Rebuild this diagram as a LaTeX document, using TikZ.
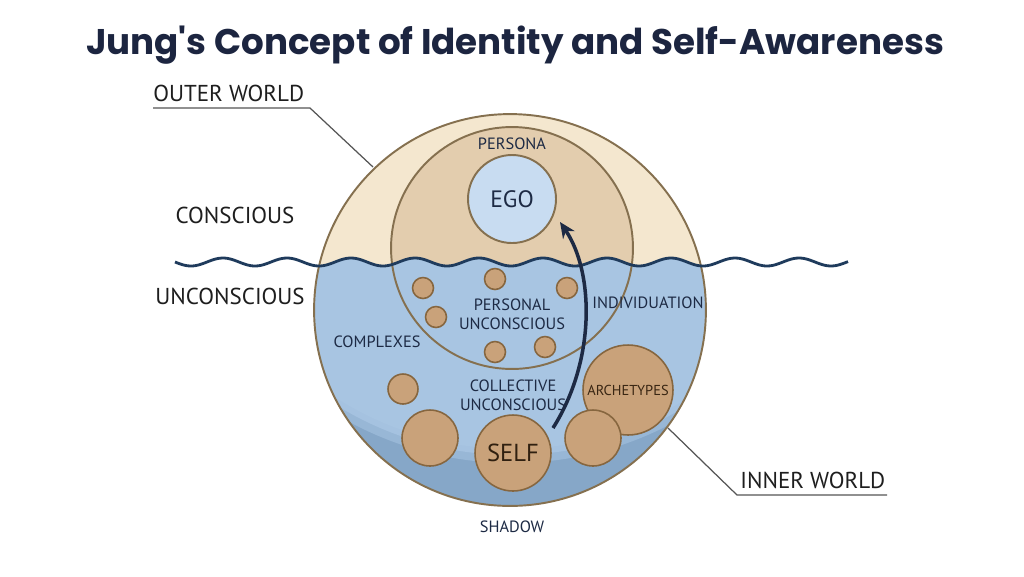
\documentclass[tikz,border=0pt]{standalone}
\usepackage{fontspec}
\setmainfont{PT Sans}
\newfontfamily\titlefont{Poppins}
\usetikzlibrary{arrows.meta}
\definecolor{cream}{HTML}{F4E7CF}
\definecolor{tan}{HTML}{E3CDAE}
\definecolor{blueL}{HTML}{A8C5E2}
\definecolor{blueM}{HTML}{98B7D6}
\definecolor{blueD}{HTML}{86A7C8}
\definecolor{egoblue}{HTML}{C8DCF1}
\definecolor{brownfill}{HTML}{C9A27A}
\definecolor{brownline}{HTML}{86663F}
\definecolor{ringline}{HTML}{85704F}
\definecolor{wavecol}{HTML}{1F3B5C}
\definecolor{txtdark}{HTML}{1E1E1E}
\definecolor{navytxt}{HTML}{1D2A44}
\definecolor{titlecol}{HTML}{1C2540}
\definecolor{leadercol}{HTML}{555555}
\begin{document}
\begin{tikzpicture}[x=0.02cm,y=-0.02cm,
  outerlbl/.style={font=\fontsize{13.1}{15}\selectfont, text=txtdark, inner sep=0pt},
  innerlbl/.style={font=\fontsize{9.3}{10.8}\selectfont, text=navytxt, align=center, inner sep=0pt},
  blob/.style={circle, draw=brownline, fill=brownfill, line width=0.9pt, inner sep=0pt, minimum size=#1*0.04cm},
  ring/.style={circle, draw=ringline, line width=1.1pt, inner sep=0pt, minimum size=#1*0.04cm},
  leader/.style={draw=leadercol, line width=0.7pt},
  growth/.style={draw=navytxt, line width=2pt, -{Stealth[length=9pt,width=8pt]}}
]
\useasboundingbox (0,0) rectangle (1024,576);
\fill[white] (0,0) rectangle (1024,576);

% title
\node[font=\titlefont\bfseries\fontsize{20.3}{24}\selectfont, text=titlecol] (title) at (515,45) {Jung's Concept of Identity and Self-Awareness};

% outer circle fills
\begin{scope}
  \clip (510,310) circle (196);
  \fill[cream] (300,100) rectangle (720,520);
  \begin{scope}
    \clip plot[domain=300:720,samples=140] (\x,{262+4*sin(5.625*(\x-175))}) -- (720,520) -- (300,520) -- cycle;
    \fill[blueD] (300,100) rectangle (720,520);
    \fill[blueM] (512,121) circle (342);
    \fill[blueL!80!blueM] (512,121) circle (334);
    \fill[blueL] (512,121) circle (328);
  \end{scope}
\end{scope}
% inner circle fills
\begin{scope}
  \clip (512,248) circle (121);
  \fill[tan] (380,120) rectangle (640,380);
  \clip plot[domain=380:640,samples=100] (\x,{262+4*sin(5.625*(\x-175))}) -- (640,380) -- (380,380) -- cycle;
  \fill[blueL] (380,120) rectangle (640,380);
\end{scope}

\node[ring=196] (outer) at (510,310) {};
\node[ring=121] (inner) at (512,248) {};

% wave line
\draw[wavecol, line width=1.6pt] plot[domain=175:848,samples=260] (\x,{262+4*sin(5.625*(\x-175))});

% ego
\node[circle, draw=ringline, fill=egoblue, line width=1.1pt, minimum size=88*0.02cm, inner sep=0pt,
      font=\fontsize{13.5}{15}\selectfont, text=navytxt] (ego) at (512,199) {EGO};

% small complexes in personal unconscious
\node[blob=10.5] (p1) at (423,288) {};
\node[blob=10.5] (p2) at (495,279) {};
\node[blob=10.5] (p3) at (567,288) {};
\node[blob=10.5] (p4) at (436,317) {};
\node[blob=10.5] (p5) at (495,352) {};
\node[blob=10.5] (p6) at (545,347) {};

% collective unconscious contents
\node[blob=15] (c1) at (403,389) {};
\node[blob=28] (c2) at (430,438) {};
\node[blob=45, font=\fontsize{8.2}{9}\selectfont, text=brown!30!black] (arch) at (628,390) {ARCHETYPES};
\node[blob=28] (c3) at (593,438) {};
\node[blob=38, font=\fontsize{14}{16}\selectfont, text=brown!25!black] (self) at (513,453) {SELF};

% labels
\node[outerlbl, anchor=base west] (owl) at (153,101) {OUTER WORLD};
\node[outerlbl] (cons) at (235,215) {CONSCIOUS};
\node[outerlbl] (uncons) at (230,296) {UNCONSCIOUS};
\node[outerlbl, anchor=base west] (iwl) at (740,488) {INNER WORLD};

\node[innerlbl] (persona) at (512,144) {PERSONA};
\node[innerlbl] (pu) at (512,314) {PERSONAL\\UNCONSCIOUS};
\node[innerlbl] (indiv) at (648,303) {INDIVIDUATION};
\node[innerlbl] (complexes) at (377,342) {COMPLEXES};
\node[innerlbl] (cu) at (513,395) {COLLECTIVE\\UNCONSCIOUS};
\node[innerlbl] (shadow) at (512,527) {SHADOW};

% leader lines
\coordinate (owA) at (153,108);
\coordinate (owB) at (310,108);
\coordinate (owC) at (373,167);
\draw[leader] (owA) -- (owB) -- (owC);
\coordinate (iwA) at (668,428);
\coordinate (iwB) at (737,495);
\coordinate (iwC) at (887,495);
\draw[leader] (iwA) -- (iwB) -- (iwC);

% individuation arrow
\coordinate (arrS) at (553,428);
\coordinate (arrE) at (560,222);
\draw[growth] (arrS) .. controls (596,360) and (594,272) .. (arrE);
\end{tikzpicture}
\end{document}
